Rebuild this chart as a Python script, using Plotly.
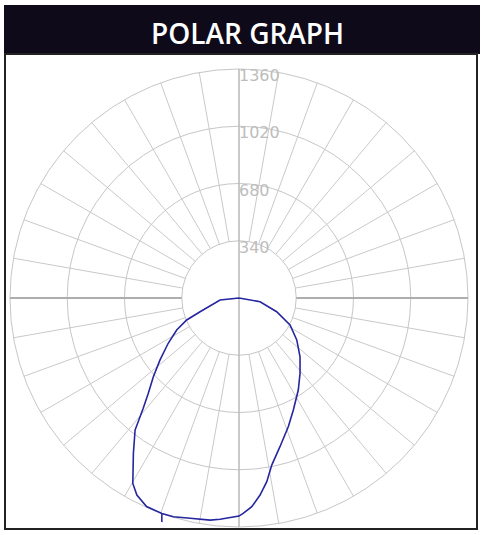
import plotly.graph_objects as go

# light curve (gamma 0 = straight down, + = right side)
gamma = [-90, -84, -70.6, -67.2, -62.8, -57.4, -51.9, -47.4, -43.6, -41.0, -38.2,
         -34.2, -29.8, -27.4, -23.9, -19.7, -16.7, -12.5, -7.4, -4.9, 0,
         1.1, 3.5, 6.1, 8.6, 11.1, 15.4, 21.0, 25.9, 32.8, 39.0, 46.1, 54.0,
         62.1, 70.0, 80.0, 90]
intensity = [0, 113, 245, 337, 416, 499, 596, 691, 781, 867, 998,
             1116, 1269, 1318, 1355, 1359, 1356, 1340, 1330, 1319, 1295,
             1279, 1242, 1177, 1103, 1011, 916, 818, 739, 650, 576, 503, 424,
             343, 238, 127, 0]

# stray line leaving the curve at the bottom
tail_gamma = [-19.7, -17.7]
tail_intensity = [1359, 1509]

radial_ticks = [340, 680, 1020, 1360]
tick_labels = ["340", "680", "1020", "1360"]
spoke_angles = [a for a in range(0, 360, 10) if a % 90 != 0]

fig = go.Figure()

# spokes between the inner and outer circle
sp_t, sp_r = [], []
for a in spoke_angles:
    sp_t += [a, a, None]
    sp_r += [radial_ticks[0], radial_ticks[-1], None]
fig.add_trace(go.Scatterpolar(r=sp_r, theta=sp_t, mode="lines",
                              line=dict(color="#c9c9c9", width=1), hoverinfo="skip"))

# horizontal axis (outside the inner circle only)
fig.add_trace(go.Scatterpolar(r=[radial_ticks[0], radial_ticks[-1], None, radial_ticks[0], radial_ticks[-1]],
                              theta=[90, 90, None, 270, 270], mode="lines",
                              line=dict(color="#adadad", width=2), hoverinfo="skip"))
# vertical axis through the centre
fig.add_trace(go.Scatterpolar(r=[radial_ticks[-1], 0, radial_ticks[-1]], theta=[180, 0, 0],
                              mode="lines", line=dict(color="#b8b8b8", width=1.5), hoverinfo="skip"))

fig.add_trace(go.Scatterpolar(r=intensity, theta=gamma, mode="lines",
                              line=dict(color="#2626a0", width=1.6)))
fig.add_trace(go.Scatterpolar(r=tail_intensity, theta=tail_gamma, mode="lines",
                              line=dict(color="#2626a0", width=1.6)))

fig.add_trace(go.Scatterpolar(r=radial_ticks, theta=[180] * len(radial_ticks), mode="text",
                              text=tick_labels, textposition="bottom right",
                              textfont=dict(family="DejaVu Sans", size=16, color="#bdbdbd")))

W, H = 484, 535
fig.update_layout(
    width=W, height=H, showlegend=False,
    margin=dict(l=0, r=0, t=0, b=0),
    paper_bgcolor="white",
    polar=dict(
        domain=dict(x=[2 / W, 476 / W], y=[0, 474 / H]),
        bgcolor="white",
        radialaxis=dict(range=[0, 1360 * 237 / 229], tickvals=radial_ticks,
                        showticklabels=False, ticks="", showline=False,
                        gridcolor="#c6c6c6", gridwidth=1),
        angularaxis=dict(rotation=270, direction="counterclockwise",
                         showgrid=False, showticklabels=False, ticks="", showline=False),
    ),
    shapes=[
        dict(type="rect", xref="paper", yref="paper",
             x0=4 / W, x1=480 / W, y0=1 - 54 / H, y1=1 - 5 / H,
             fillcolor="#0e0a1a", line=dict(width=0), layer="above"),
        dict(type="rect", xref="paper", yref="paper",
             x0=5 / W, x1=477 / W, y0=1 - 529 / H, y1=1 - 54 / H,
             fillcolor="rgba(0,0,0,0)", line=dict(color="#222222", width=2), layer="above"),
    ],
    annotations=[
        dict(text="POLAR GRAPH", xref="paper", yref="paper",
             x=247.5 / W, y=1 - 33 / H, xanchor="center", yanchor="middle",
             showarrow=False,
             font=dict(family="Open Sans", size=28, color="white", weight=600)),
    ],
)

# page has a default 8px body margin; drop it so the figure sits at 0,0
fig.write_html("out.html", config={"displayModeBar": False},
               post_script="document.body.style.margin='0';")
